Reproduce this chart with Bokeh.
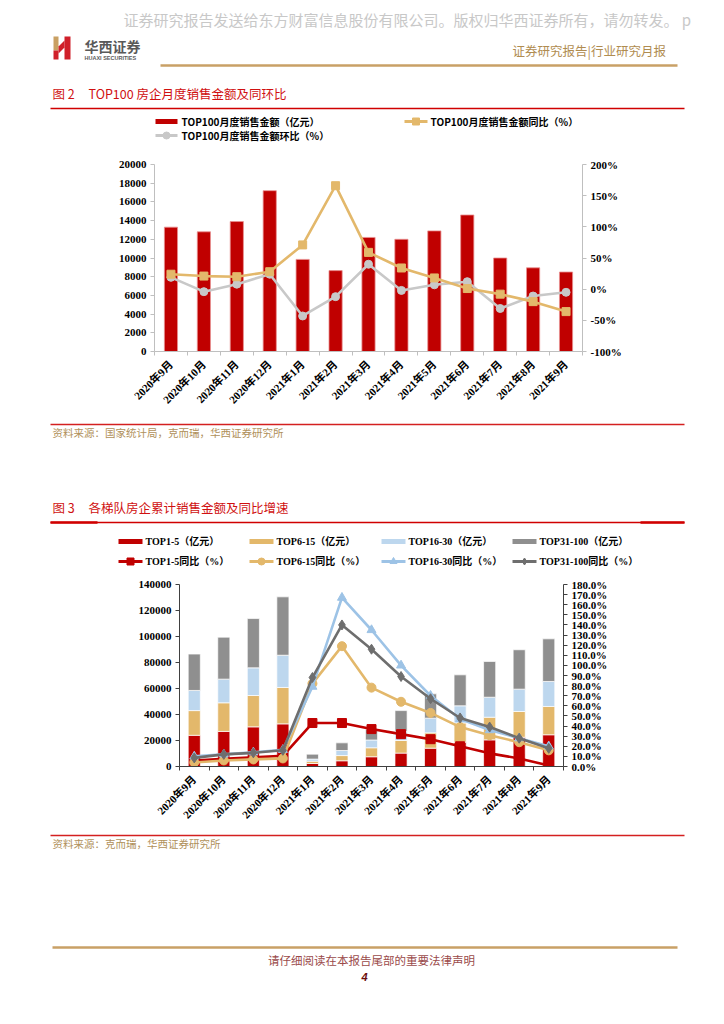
import math
from bokeh.plotting import figure
from bokeh.models import Range1d, LinearAxis, FixedTicker, PrintfTickFormatter, ColumnDataSource
from bokeh.embed import file_html
from bokeh.resources import INLINE
from bokeh.core.properties import value

# ---------------- data ----------------
months = ["2020年9月", "2020年10月", "2020年11月", "2020年12月", "2021年1月", "2021年2月",
          "2021年3月", "2021年4月", "2021年5月", "2021年6月", "2021年7月", "2021年8月", "2021年9月"]

# Figure 2: TOP100 monthly sales (亿元) and yoy / mom (%)
top100_sales = [13300, 12800, 13900, 17200, 9850, 8650, 12200, 12000, 12900, 14600, 10000, 8950, 8500]
top100_yoy = [24, 21, 20, 28, 71, 166, 59, 34, 18, 1, -8, -20, -36]
top100_mom = [19, -4, 8, 24, -43, -12, 40, -2, 7, 12, -31, -11, -5]

# Figure 3: cumulative sales by tier (亿元)
top1_5 = [24000, 27000, 30500, 32800, 2300, 4400, 7500, 10300, 14100, 18700, 20500, 22500, 24400]
top6_15 = [19000, 22000, 24100, 28000, 1800, 4000, 6900, 9700, 11800, 14800, 17400, 19800, 21800]
top16_30 = [15500, 18200, 21300, 24800, 1600, 3900, 6000, 7000, 11300, 13200, 15400, 17200, 19200]
top31_100 = [28000, 32300, 37900, 44900, 3800, 5900, 8000, 16000, 18700, 23800, 27500, 30300, 32800]
# yoy growth (%)
top1_5_yoy = [6, 7.5, 9, 10.5, 43, 43, 37, 32, 27, 20, 13, 8, 1]
top6_15_yoy = [4, 6, 7, 8, 82, 119, 78, 64, 53, 39, 31, 24, 16]
top16_30_yoy = [10, 12, 14, 16.5, 79, 167, 135, 100, 70, 47, 36, 28, 20]
top31_100_yoy = [8.5, 12, 13.5, 16, 88, 140, 116, 89, 67, 48, 39, 28, 18]

left1_ticks = list(range(0, 20001, 2000))
right1_ticks = [-100, -50, 0, 50, 100, 150, 200]
left2_ticks = list(range(0, 140001, 20000))
right2_ticks = list(range(0, 181, 10))

# ---------------- styles ----------------
W = 724
RED = "#c00000"
GOLD = "#e3b86b"
GRAY1 = "#c8c8c8"
BLUE = "#bdd7ee"
BLUEL = "#9dc3e6"
GRAYBAR = "#8f8f8f"
GRAYL = "#6e6e6e"
TAN = "#b0905a"
SERIF = "Liberation Serif, Noto Sans CJK SC"
CJK = "Noto Sans CJK SC"

idx = list(range(len(months)))


def strip(h, top):
    f = figure(width=W, height=h, x_range=Range1d(0, W), y_range=Range1d(h, 0),
               output_backend="svg", toolbar_location=None, min_border=0,
               x_axis_location=None, y_axis_location=None)
    f.grid.visible = False
    f.outline_line_color = None
    f.background_fill_color = "white"
    f._top = top
    return f


def T(f, x, y, s, size, color, font=CJK, style="normal", align="left"):
    f.text(x=[x], y=[y - f._top], text=[s], text_font_size=f"{size}px",
           text_color=color, text_font=value(font), text_font_style=style,
           text_align=align, text_baseline="middle")


def L(f, x0, x1, y, color, w):
    f.line(x=[x0, x1], y=[y - f._top, y - f._top], line_color=color, line_width=w)


def Q(f, x0, x1, y0, y1, color):
    f.quad(left=[x0], right=[x1], top=[y0 - f._top], bottom=[y1 - f._top],
           fill_color=color, line_color=None)


def M(f, x, y, marker, size, color):
    f.scatter(x=[x], y=[y - f._top], marker=marker, size=size,
              fill_color=color, line_color=color)


# ---------------- strip A : header, title 2, legend 2 ----------------
A = strip(156, 0)
T(A, 123, 19, "证券研究报告发送给东方财富信息股份有限公司。版权归华西证券所有，请勿转发。 p", 15, "#c8c8c8")
# logo
Q(A, 53, 58, 36, 50, "#c9a063")
Q(A, 53, 58, 50, 59, "#d0202a")
Q(A, 64, 70, 36, 59, "#d0202a")
A.patch(x=[58, 64, 64, 58], y=[46, 40, 47, 53], fill_color="#d0202a", line_color=None)
T(A, 84, 45, "华西证券", 14, "#595959", style="bold")
T(A, 84, 57, "HUAXI SECURITIES", 5.5, "#595959", font="Liberation Sans", style="bold")
T(A, 512, 50, "证券研究报告|行业研究月报", 12.5, "#b08c50")
L(A, 160, 677, 65, "#c9a066", 2.5)
T(A, 52, 93, "图 2", 12.5, "#d01010")
T(A, 88, 93, "TOP100 房企月度销售金额及同环比", 12.5, "#d01010")
L(A, 50, 684, 108, "#d00000", 1.6)
# legend
Q(A, 155, 177, 118.5, 123.5, RED)
T(A, 181, 121, "TOP100月度销售金额（亿元）", 10, "#000000", style="bold")
L(A, 404, 427, 121, GOLD, 3)
M(A, 415.5, 121, "square", 7, GOLD)
T(A, 430, 121, "TOP100月度销售金额同比（%）", 10, "#000000", style="bold")
L(A, 155, 177, 135, GRAY1, 3)
M(A, 166, 135, "circle", 7, GRAY1)
T(A, 181, 135, "TOP100月度销售金额环比（%）", 10, "#000000", style="bold")

# ---------------- chart 1 ----------------
p1 = figure(width=W, height=259, x_range=Range1d(-0.5, 12.5), y_range=Range1d(0, 20000),
            output_backend="svg", toolbar_location=None,
            min_border_left=154, min_border_right=142, min_border_top=8, min_border_bottom=64)
p1.outline_line_color = None
p1.grid.visible = False
p1.extra_y_ranges = {"pct": Range1d(-100, 200)}

p1.vbar(x=idx, top=top100_sales, width=0.4, fill_color=RED, line_color="#e89090", line_width=0.8)
p1.line(x=idx, y=top100_mom, y_range_name="pct", line_color=GRAY1, line_width=2.6)
p1.scatter(x=idx, y=top100_mom, y_range_name="pct", marker="circle", size=8,
           fill_color=GRAY1, line_color=GRAY1)
p1.line(x=idx, y=top100_yoy, y_range_name="pct", line_color=GOLD, line_width=2.6)
p1.scatter(x=idx, y=top100_yoy, y_range_name="pct", marker="square", size=8,
           fill_color=GOLD, line_color=GOLD)

ax_r1 = LinearAxis(y_range_name="pct", ticker=FixedTicker(ticks=right1_ticks),
                   formatter=PrintfTickFormatter(format="%d%%"))
p1.add_layout(ax_r1, "right")


def style_axes(p, color, lab_size=11):
    for ax in p.yaxis:
        ax.axis_line_color = color
        ax.major_tick_line_color = color
        ax.major_tick_out = 4
        ax.major_tick_in = 0
        ax.minor_tick_line_color = None
        ax.major_label_text_font = "Liberation Serif"
        ax.major_label_text_font_style = "bold"
        ax.major_label_text_font_size = f"{lab_size}px"
        ax.major_label_text_color = "#000000"
        ax.major_label_standoff = 4
    xa = p.xaxis[0]
    xa.ticker = FixedTicker(ticks=idx, minor_ticks=[i - 0.5 for i in range(len(months) + 1)])
    xa.major_label_overrides = {i: m for i, m in enumerate(months)}
    xa.axis_line_color = color
    xa.major_tick_line_color = None
    xa.major_tick_out = 0
    xa.major_tick_in = 0
    xa.minor_tick_line_color = color
    xa.minor_tick_out = 4
    xa.minor_tick_in = 0
    xa.major_label_orientation = math.pi / 4
    xa.major_label_text_font = SERIF
    xa.major_label_text_font_style = "bold"
    xa.major_label_text_font_size = f"{lab_size}px"
    xa.major_label_text_color = "#000000"
    xa.major_label_standoff = 7


p1.yaxis[0].ticker = FixedTicker(ticks=left1_ticks)
p1.yaxis[0].formatter = PrintfTickFormatter(format="%d")
style_axes(p1, "#bfbfbf")

# ---------------- strip C : source 1, title 3, legend 3 ----------------
C = strip(161, 415)
L(C, 50, 684, 424, "#d42020", 1.6)
T(C, 52, 432, "资料来源：国家统计局，克而瑞，华西证券研究所", 10.5, TAN)
T(C, 52, 507, "图 3", 12.5, "#d01010")
T(C, 88, 507, "各梯队房企累计销售金额及同比增速", 12.5, "#d01010")
L(C, 50, 684, 522, "#d00000", 1.4)
L(C, 50, 97, 522, "#d00000", 2.4)
L(C, 640, 684, 522, "#d00000", 2.4)

leg_x = [118, 249, 381, 512]
bar_cols = [RED, GOLD, BLUE, GRAYBAR]
line_cols = [RED, GOLD, BLUEL, GRAYL]
markers = ["square", "circle", "triangle", "diamond"]
names1 = ["TOP1-5（亿元）", "TOP6-15（亿元）", "TOP16-30（亿元）", "TOP31-100（亿元）"]
names2 = ["TOP1-5同比（%）", "TOP6-15同比（%）", "TOP16-30同比（%）", "TOP31-100同比（%）"]
for lx, bc, lc, mk, n1, n2 in zip(leg_x, bar_cols, line_cols, markers, names1, names2):
    Q(C, lx, lx + 24, 538.5, 543.5, bc)
    T(C, lx + 27, 541, n1, 10, "#000000", font=SERIF, style="bold")
    L(C, lx, lx + 24, 561, lc, 3)
    M(C, lx + 12, 561, mk, 7, lc)
    T(C, lx + 27, 561, n2, 10, "#000000", font=SERIF, style="bold")

# ---------------- chart 2 ----------------
p2 = figure(width=W, height=254, x_range=Range1d(-0.5, 12.5), y_range=Range1d(0, 140000),
            output_backend="svg", toolbar_location=None,
            min_border_left=179, min_border_right=161, min_border_top=8, min_border_bottom=64)
p2.outline_line_color = None
p2.grid.visible = False
p2.extra_y_ranges = {"pct": Range1d(0, 180)}

src = ColumnDataSource(dict(x=idx, t1=top1_5, t2=top6_15, t3=top16_30, t4=top31_100))
p2.vbar_stack(["t1", "t2", "t3", "t4"], x="x", width=0.41, source=src,
              fill_color=bar_cols, line_color="white", line_width=0.7)

for ys, lc, mk, sz in [(top1_5_yoy, RED, "square", 9), (top6_15_yoy, GOLD, "circle", 9),
                       (top16_30_yoy, BLUEL, "triangle", 9), (top31_100_yoy, GRAYL, "diamond", 10)]:
    p2.line(x=idx, y=ys, y_range_name="pct", line_color=lc, line_width=2.6)
    p2.scatter(x=idx, y=ys, y_range_name="pct", marker=mk, size=sz, fill_color=lc, line_color=lc)

ax_r2 = LinearAxis(y_range_name="pct", ticker=FixedTicker(ticks=right2_ticks),
                   formatter=PrintfTickFormatter(format="%.1f%%"))
p2.add_layout(ax_r2, "right")
p2.yaxis[0].ticker = FixedTicker(ticks=left2_ticks)
p2.yaxis[0].formatter = PrintfTickFormatter(format="%d")
style_axes(p2, "#404040")

# ---------------- strip E : source 2, footer ----------------
E = strip(186, 830)
L(E, 50, 684, 835, "#d42020", 1.6)
T(E, 52, 843, "资料来源：克而瑞，华西证券研究所", 10.5, TAN)
L(E, 52, 677, 947, "#c9a066", 2.6)
T(E, 371, 959, "请仔细阅读在本报告尾部的重要法律声明", 11.5, "#9a4a4a", align="center")
T(E, 364, 976, "4", 11, "#6b0e0e", font="Liberation Sans", style="bold italic", align="center")

open("out.html", "w").write(file_html([A, p1, C, p2, E], INLINE))
